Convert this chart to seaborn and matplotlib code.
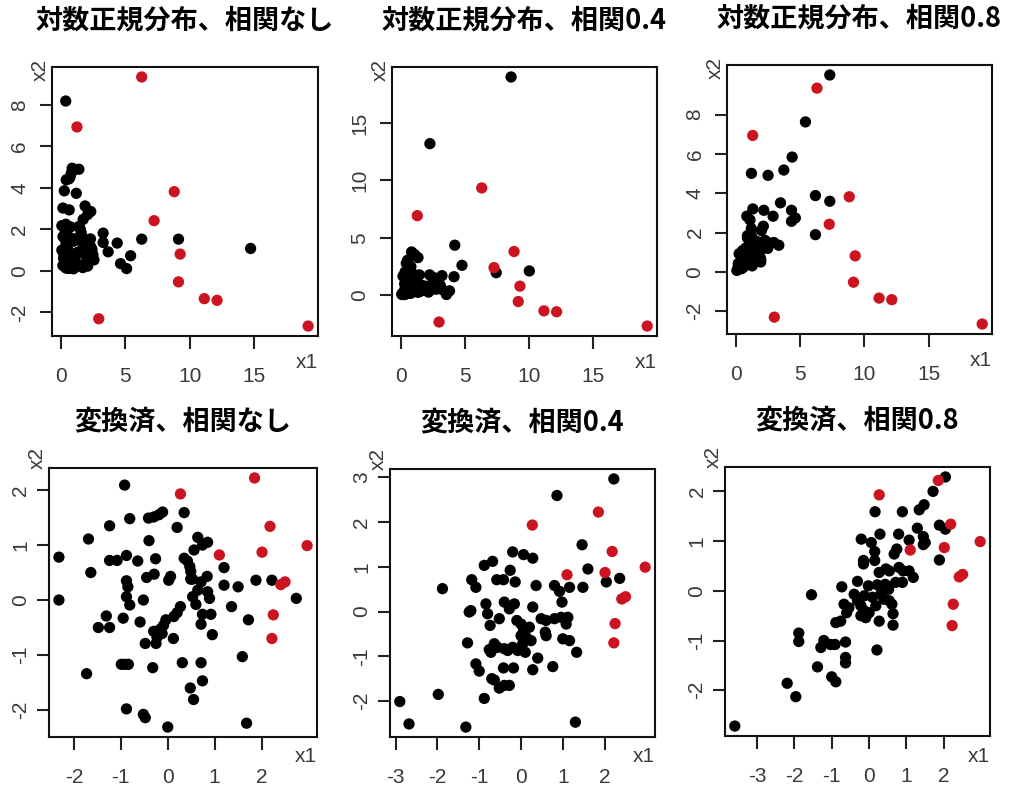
import numpy as np
import pandas as pd
import matplotlib
matplotlib.use("Agg")
import matplotlib.pyplot as plt
import matplotlib.transforms as mtransforms
import seaborn as sns

# ---------------- data ----------------
# outliers (red), raw scale
raw_red_x1 = [6.29, 1.27, 8.81, 7.25, 9.27, 9.14, 11.14, 12.13, 2.96, 19.19]
raw_red_x2 = [9.35, 6.94, 3.82, 2.42, 0.81, -0.53, -1.34, -1.42, -2.31, -2.66]
# outliers (red), transformed scale
tr_red_x1 = [0.27, 1.85, 2.18, 2.01, 1.10, 2.97, 2.41, 2.50, 2.25, 2.22]
tr_red_x2 = [1.93, 2.22, 1.34, 0.87, 0.82, 0.99, 0.28, 0.33, -0.27, -0.70]

# log-normal, no correlation
ln0_x1 = [0.40, 1.42, 1.22, 0.90, 0.83, 0.74, 0.66, 0.44, 0.29, 0.18,
          0.67, 1.90, 2.34, 2.10, 1.75, 0.10, 0.29, 0.34, 0.41, 0.53,
          0.77, 1.42, 1.52, 1.60, 1.63, 3.30, 0.19, 0.41, 0.43, 0.64,
          0.75, 1.06, 1.02, 1.63, 1.70, 2.03, 2.32, 3.30, 4.39, 6.29,
          9.14, 1.90, 2.34, 0.10, 0.41, 0.44, 0.59, 1.70, 1.82, 2.44,
          1.31, 1.22, 1.14, 0.96, 3.69, 14.73, 2.10, 2.51, 2.03, 5.43,
          0.39, 0.27, 0.29, 0.23, 0.55, 0.91, 0.85, 0.74, 0.89, 0.79,
          1.13, 2.59, 0.62, 0.78, 0.37, 0.40, 0.43, 0.73, 1.36, 2.03,
          4.65, 0.18, 2.10, 1.62, 1.73, 0.41, 0.59, 0.62, 1.00, 5.12]
ln0_x2 = [8.19, 4.90, 3.74, 4.95, 4.71, 4.53, 4.44, 4.39, 3.86, 3.03,
          2.94, 3.13, 2.86, 2.72, 2.48, 2.18, 2.05, 2.05, 2.25, 2.03,
          2.12, 2.14, 2.03, 1.84, 1.68, 1.82, 1.65, 1.42, 1.27, 1.51,
          1.60, 1.54, 1.43, 1.46, 1.46, 1.39, 1.54, 1.37, 1.34, 1.53,
          1.53, 1.20, 1.16, 1.00, 1.06, 0.91, 1.00, 1.06, 0.92, 1.03,
          0.89, 0.79, 0.74, 0.70, 0.92, 1.08, 0.77, 0.77, 0.64, 0.73,
          0.72, 0.75, 0.61, 0.61, 0.67, 0.63, 0.59, 0.57, 0.54, 0.51,
          0.50, 0.53, 0.45, 0.45, 0.31, 0.31, 0.31, 0.29, 0.32, 0.32,
          0.35, 0.26, 0.23, 0.20, 0.16, 0.14, 0.12, 0.12, 0.10, 0.11]

# log-normal, correlation 0.4
ln4_x1 = [8.58, 2.25, 4.19, 4.75, 10.0, 7.42, 4.13, 3.19, 2.23, 2.51,
          2.66, 0.82, 1.06, 1.32, 0.41, 0.51, 0.77, 0.56, 0.66, 0.87,
          0.31, 0.34, 0.15, 1.43, 0.67, 0.76, 0.85, 0.43, 0.45, 0.30,
          0.29, 1.32, 0.59, 0.48, 0.90, 1.00, 1.06, 1.00, 1.13, 1.04,
          1.22, 1.27, 1.62, 1.82, 2.23, 2.61, 3.06, 2.94, 1.79, 1.82,
          2.72, 3.19, 3.78, 1.49, 2.14, 1.32, 0.84, 0.66, 0.53, 0.57,
          0.67, 0.73, 0.82, 0.92, 1.11, 0.49, 0.47, 0.28, 0.34, 0.37,
          0.50, 0.53, 0.59, 0.67, 0.76, 0.41, 0.14, 0.06, 0.07, 0.27, 3.54]
ln4_x2 = [19.0, 13.2, 4.37, 2.62, 2.13, 1.98, 1.63, 1.72, 1.79, 1.57,
          1.23, 3.78, 3.56, 3.29, 2.80, 3.06, 2.51, 2.03, 2.03, 1.93,
          2.03, 1.72, 1.67, 1.79, 1.23, 1.06, 1.19, 1.19, 0.95, 1.02,
          0.99, 1.11, 0.85, 0.73, 0.82, 0.76, 0.66, 0.58, 0.57, 0.49,
          0.70, 0.52, 0.85, 0.82, 0.85, 0.88, 0.88, 0.76, 0.63, 0.58,
          0.54, 0.52, 0.40, 0.35, 0.29, 0.27, 0.28, 0.28, 0.49, 0.45,
          0.44, 0.42, 0.45, 0.42, 0.40, 0.40, 0.43, 0.50, 0.31, 0.26,
          0.22, 0.22, 0.18, 0.19, 0.19, 0.14, 0.16, 0.13, 0.08, 0.08, 0.08]

# log-normal, correlation 0.8
ln8_x1 = [0.03, 0.11, 0.14, 0.15, 0.15, 0.21, 0.25, 0.28, 0.30, 0.36,
          0.40, 0.37, 0.41, 0.53, 0.53, 0.53, 0.41, 0.47, 0.48, 0.51,
          0.55, 0.58, 0.67, 0.73, 0.80, 0.88, 0.80, 0.91, 1.00, 0.73,
          0.88, 1.09, 1.20, 1.31, 0.86, 0.86, 0.81, 1.06, 1.16, 1.16,
          1.17, 1.28, 1.23, 0.98, 1.25, 1.54, 1.68, 1.31, 1.57, 1.72,
          1.36, 1.49, 1.72, 1.84, 1.90, 1.90, 1.95, 2.10, 2.14, 2.23,
          2.48, 2.92, 3.31, 2.44, 2.03, 2.47, 2.86, 3.44, 3.70, 4.35,
          4.30, 4.60, 4.30, 5.39, 6.17, 7.29, 6.17, 7.29]
ln8_x2 = [0.07, 0.16, 0.12, 0.43, 0.36, 0.92, 0.22, 0.32, 0.37, 0.34,
          0.34, 0.18, 0.16, 0.36, 0.26, 0.23, 0.53, 0.54, 1.08, 0.76,
          0.64, 0.71, 0.93, 0.82, 0.74, 0.67, 0.61, 0.58, 0.64, 1.21,
          0.90, 0.88, 0.74, 0.54, 1.84, 1.72, 2.83, 2.64, 2.20, 1.84,
          5.01, 3.20, 0.30, 1.11, 1.13, 1.14, 1.03, 1.45, 1.55, 1.49,
          0.93, 0.84, 0.82, 0.76, 0.63, 0.50, 2.10, 2.32, 3.13, 1.60,
          1.49, 1.49, 1.35, 1.19, 1.19, 4.91, 2.83, 3.51, 5.18, 5.84,
          3.13, 2.74, 2.57, 7.63, 3.88, 3.59, 1.89, 10.02]

# transformed, no correlation
tr0_x1 = [-0.92, 0.35, 0.20, -0.11, -0.19, -0.30, -0.41, -0.81, -1.24, -1.69,
          -0.40, 0.64, 0.85, 0.74, 0.56, -2.32, -1.24, -1.08, -0.88, -0.64,
          -0.26, 0.35, 0.42, 0.47, 0.49, 1.20, -1.64, -0.88, -0.85, -0.45,
          -0.29, 0.06, 0.02, 0.49, 0.53, 0.71, 0.84, 1.20, 1.50, 1.88,
          2.22, 0.64, 0.85, -2.32, -0.88, -0.81, -0.52, 0.53, 0.60, 0.89,
          0.27, 0.20, 0.13, -0.04, 1.36, 2.74, 0.74, 0.92, 0.71, 1.72,
          -0.95, -1.31, -1.24, -1.48, -0.59, -0.09, -0.16, -0.30, -0.12, -0.23,
          0.12, 0.95, -0.48, -0.25, -0.99, -0.92, -0.84, -0.32, 0.31, 0.71,
          1.59, -1.73, 0.74, 0.48, 0.55, -0.88, -0.52, -0.48, 0.00, 1.68]
tr0_x2 = [2.09, 1.59, 1.32, 1.60, 1.55, 1.51, 1.49, 1.48, 1.35, 1.11,
          1.08, 1.14, 1.05, 1.00, 0.91, 0.78, 0.72, 0.72, 0.81, 0.71,
          0.75, 0.76, 0.71, 0.61, 0.52, 0.59, 0.50, 0.35, 0.24, 0.41,
          0.47, 0.43, 0.36, 0.38, 0.38, 0.33, 0.43, 0.27, 0.24, 0.36,
          0.36, 0.18, 0.15, 0.00, 0.06, -0.09, 0.00, 0.06, -0.08, 0.03,
          -0.12, -0.23, -0.30, -0.36, -0.12, 0.03, -0.26, -0.26, -0.44, -0.36,
          -0.33, -0.29, -0.50, -0.50, -0.40, -0.46, -0.53, -0.57, -0.61, -0.68,
          -0.70, -0.63, -0.79, -0.79, -1.17, -1.17, -1.17, -1.23, -1.14, -1.14,
          -1.03, -1.34, -1.47, -1.60, -1.81, -1.98, -2.08, -2.14, -2.31, -2.24]

# transformed, correlation 0.4
tr4_x1 = [2.22, 0.86, 1.46, 1.60, 2.36, 2.04, 1.48, 1.16, 0.80, 0.92,
          0.98, -0.20, 0.06, 0.28, -0.88, -0.68, -0.26, -0.58, -0.42, -0.14,
          -1.18, -1.08, -1.88, 0.36, -0.40, -0.28, -0.16, -0.84, -0.80, -1.20,
          -1.24, 0.28, -0.52, -0.74, -0.10, 0.00, 0.06, 0.00, 0.12, 0.04,
          0.20, 0.24, 0.48, 0.60, 0.80, 0.96, 1.12, 1.08, 0.58, 0.60,
          1.00, 1.16, 1.33, 0.40, 0.76, 0.28, -0.18, -0.42, -0.64, -0.56,
          -0.40, -0.32, -0.20, -0.08, 0.10, -0.72, -0.76, -1.28, -1.08, -1.00,
          -0.70, -0.64, -0.52, -0.40, -0.28, -0.88, -1.98, -2.90, -2.68, -1.32, 1.30]
tr4_x2 = [2.96, 2.59, 1.49, 0.95, 0.74, 0.66, 0.54, 0.54, 0.58, 0.45,
          0.21, 1.33, 1.27, 1.19, 1.03, 1.12, 0.92, 0.71, 0.71, 0.66,
          0.71, 0.54, 0.51, 0.58, 0.21, 0.06, 0.17, 0.17, -0.05, 0.02,
          -0.01, 0.10, -0.16, -0.31, -0.20, -0.28, -0.42, -0.54, -0.57, -0.72,
          -0.35, -0.65, -0.16, -0.20, -0.16, -0.13, -0.13, -0.28, -0.46, -0.54,
          -0.61, -0.65, -0.91, -1.04, -1.23, -1.30, -1.26, -1.26, -0.72, -0.80,
          -0.83, -0.87, -0.80, -0.87, -0.91, -0.91, -0.85, -0.70, -1.17, -1.33,
          -1.50, -1.53, -1.71, -1.65, -1.65, -1.94, -1.85, -2.01, -2.51, -2.58, -2.47]

# transformed, correlation 0.8
tr8_x1 = [-3.59, -2.19, -1.96, -1.88, -1.88, -1.54, -1.38, -1.29, -1.21, -1.03,
          -0.91, -1.00, -0.89, -0.63, -0.63, -0.63, -0.89, -0.76, -0.73, -0.67,
          -0.60, -0.54, -0.40, -0.31, -0.22, -0.13, -0.22, -0.09, 0.00, -0.31,
          -0.13, 0.09, 0.18, 0.27, -0.15, -0.15, -0.21, 0.06, 0.15, 0.15,
          0.16, 0.29, 0.21, -0.02, 0.22, 0.43, 0.52, 0.27, 0.45, 0.54,
          0.31, 0.40, 0.54, 0.61, 0.64, 0.64, 0.67, 0.74, 0.79, 0.80,
          0.91, 1.07, 1.18, 0.89, 0.71, 0.89, 1.07, 1.29, 1.34, 1.47,
          1.45, 1.50, 1.45, 1.71, 1.88, 2.04, 1.88, 2.04]
tr8_x2 = [-2.72, -1.86, -2.13, -0.85, -1.02, -0.08, -1.53, -1.14, -1.00, -1.08,
          -1.08, -1.73, -1.83, -1.03, -1.34, -1.45, -0.64, -0.61, 0.08, -0.27,
          -0.44, -0.34, -0.07, -0.20, -0.30, -0.40, -0.50, -0.54, -0.44, 0.19,
          -0.10, -0.13, -0.30, -0.61, 0.61, 0.54, 1.04, 0.97, 0.79, 0.61,
          1.59, 1.14, -1.19, 0.10, 0.12, 0.13, 0.03, 0.37, 0.44, 0.40,
          -0.07, -0.17, -0.20, -0.27, -0.46, -0.69, 0.74, 0.84, 1.14, 0.47,
          0.40, 0.40, 0.27, 0.17, 0.17, 1.59, 1.02, 1.26, 1.63, 1.73,
          1.09, 0.97, 0.93, 2.00, 1.32, 1.24, 0.62, 2.29]

titles = ["対数正規分布、相関なし", "対数正規分布、相関0.4", "対数正規分布、相関0.8",
          "変換済、相関なし", "変換済、相関0.4", "変換済、相関0.8"]
xticks_list = [[0, 5, 10, 15], [0, 5, 10, 15], [0, 5, 10, 15],
               [-2, -1, 0, 1, 2], [-3, -2, -1, 0, 1, 2], [-3, -2, -1, 0, 1, 2]]
yticks_list = [[-2, 0, 2, 4, 6, 8], [0, 5, 10, 15], [-2, 0, 2, 4, 6, 8],
               [-2, -1, 0, 1, 2], [-2, -1, 0, 1, 2, 3], [-2, -1, 0, 1, 2]]

# ---------------- layout ----------------
W, H = 1014, 789
boxes = [(52, 67, 318, 336), (392, 67, 657, 336), (727, 65, 992, 334),
         (49, 468, 317, 737), (390, 469, 655, 737), (725, 467, 990, 736)]
series = [(ln0_x1, ln0_x2, raw_red_x1, raw_red_x2),
          (ln4_x1, ln4_x2, raw_red_x1, raw_red_x2),
          (ln8_x1, ln8_x2, raw_red_x1, raw_red_x2),
          (tr0_x1, tr0_x2, tr_red_x1, tr_red_x2),
          (tr4_x1, tr4_x2, tr_red_x1, tr_red_x2),
          (tr8_x1, tr8_x2, tr_red_x1, tr_red_x2)]

sns.set_style("ticks")
plt.rcParams['font.family'] = ['Liberation Sans', 'DejaVu Sans']
plt.rcParams['axes.unicode_minus'] = False

fig = plt.figure(figsize=(W / 100, H / 100), dpi=100)
fig.patch.set_facecolor("white")

RED = "#CC1420"
label_color = "#3a3a3a"
FS = 15

for i, (box, (bx, by, rx, ry)) in enumerate(zip(boxes, series)):
    l, t, r, b = box
    w, h = r - l, b - t
    ax = fig.add_axes([l / W, 1 - b / H, w / W, h / H])
    df = pd.DataFrame({
        "x1": list(bx) + list(rx),
        "x2": list(by) + list(ry),
        "grp": ["base"] * len(bx) + ["outlier"] * len(rx),
    })
    sns.scatterplot(data=df, x="x1", y="x2", hue="grp",
                    palette={"base": "black", "outlier": RED},
                    s=66, linewidth=0, legend=False, ax=ax, zorder=3)
    xs = df["x1"].to_numpy(); ys = df["x2"].to_numpy()
    xr = xs.max() - xs.min(); yr = ys.max() - ys.min()
    ax.set_xlim(xs.min() - 0.04 * xr, xs.max() + 0.04 * xr)
    ax.set_ylim(ys.min() - 0.04 * yr, ys.max() + 0.04 * yr)
    ax.set_xticks(xticks_list[i])
    ax.set_yticks(yticks_list[i])
    ax.set_yticklabels([])
    ax.set_xlabel(""); ax.set_ylabel("")
    for sp in ax.spines.values():
        sp.set_visible(True)
        sp.set_color("#111111")
        sp.set_linewidth(1.5)
    ax.tick_params(axis="both", direction="out", length=9, width=1.5,
                   color="#222222", labelcolor=label_color, labelsize=FS)
    ax.tick_params(axis="x", pad=13)
    ax.set_facecolor("white")

    # rotated y tick labels, R style
    ylab_off = 32 if i < 3 else 28
    trans = mtransforms.blended_transform_factory(ax.transAxes, ax.transData)
    for v in yticks_list[i]:
        ax.text(-ylab_off / w, v, str(v), transform=trans, rotation=90,
                ha="center", va="center", fontsize=FS, color=label_color,
                clip_on=False)

    # axis names (R style placement)
    if i < 3:
        x2_dy, x1_dy = 3, 26
    else:
        x2_dy, x1_dy = -10, 20
    ax.text(-12 / w, 1 - x2_dy / h, "x2", transform=ax.transAxes, rotation=90,
            ha="center", va="center", fontsize=FS, color=label_color)
    ax.text(1.0, -x1_dy / h, "x1", transform=ax.transAxes,
            ha="right", va="center", fontsize=FS, color=label_color)
    # title
    ax.text(0.5, 1 + 47 / h, titles[i], transform=ax.transAxes,
            ha="center", va="center", fontsize=19.5, fontweight="bold",
            family=["Noto Sans CJK JP", "DejaVu Sans"], color="black")

fig.savefig("out.png", dpi=100, facecolor="white")
